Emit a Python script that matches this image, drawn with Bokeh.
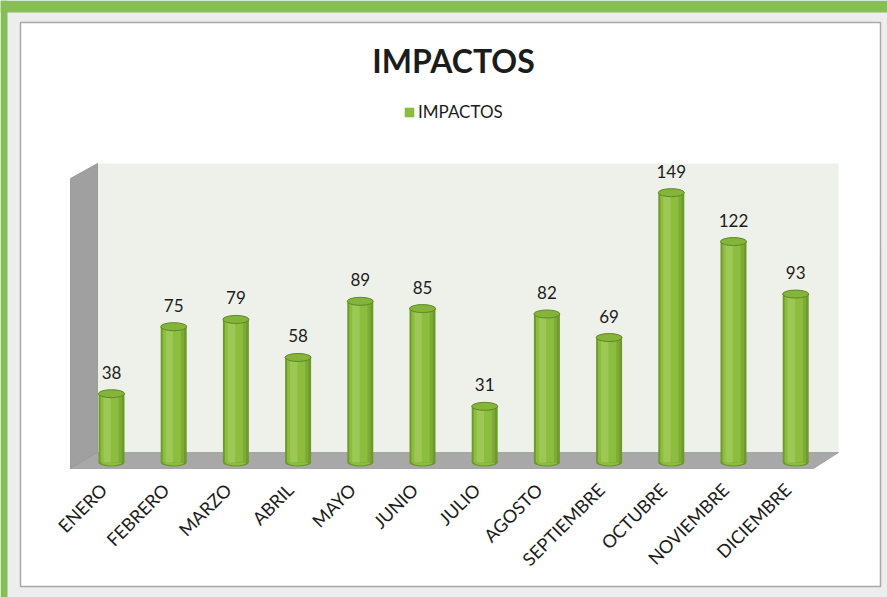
import math
from bokeh.plotting import figure
from bokeh.models import Range1d, Legend, LegendItem, ColumnDataSource
from bokeh.transform import dodge
from bokeh.embed import file_html
from bokeh.resources import INLINE
from bokeh.core.properties import value

# ---- data ----
months = ["ENERO", "FEBRERO", "MARZO", "ABRIL", "MAYO", "JUNIO", "JULIO",
          "AGOSTO", "SEPTIEMBRE", "OCTUBRE", "NOVIEMBRE", "DICIEMBRE"]
impactos = [38, 75, 79, 58, 89, 85, 31, 82, 69, 149, 122, 93]
series_name = "IMPACTOS"
chart_title = "IMPACTOS"

FONT = "Lato"
TXT = "#1c1c1c"
W_PX, H_PX = 887, 597

# layout: one category step = 62.2 px, one value unit = 1.811 px
STEP, UNIT = 62.2, 1.811
x0 = -111 / STEP
x1 = x0 + W_PX / STEP
y1 = 462 / UNIT
y0 = y1 - H_PX / UNIT


def X(px):  # canvas pixel -> x data
    return x0 + px / STEP


def Y(py):  # canvas pixel (from top) -> y data
    return y1 - py / UNIT


idx = list(range(len(months)))
src = ColumnDataSource(dict(x=idx, top=impactos, zero=[0] * len(idx),
                            label=[str(v) for v in impactos]))
msrc = ColumnDataSource(dict(x=idx, m=months, y=[Y(486)] * len(idx)))

p = figure(width=W_PX, height=H_PX, output_backend="svg", toolbar_location=None,
           x_range=Range1d(x0, x1), y_range=Range1d(y0, y1),
           x_axis_location=None, y_axis_location=None,
           min_border_left=0, min_border_right=0,
           min_border_top=0, min_border_bottom=0)
p.background_fill_color = "#EDEDED"
p.border_fill_color = "#EDEDED"
p.outline_line_color = None
p.xgrid.visible = False
p.ygrid.visible = False

# ---- page frame: green strips + white panel ----
p.quad(left=x0, right=x1, bottom=Y(12), top=y1, fill_color="#86BF55", line_color=None)
p.quad(left=x0, right=X(7), bottom=y0, top=y1, fill_color="#86BF55", line_color=None)
p.quad(left=X(20), right=X(880), bottom=Y(586), top=Y(22),
       fill_color="white", line_color="#A8A8A8", line_width=1.5)

# ---- 3D walls / floor ----
p.quad(left=X(97), right=X(838), bottom=Y(452), top=Y(163),
       fill_color="#EEF1EA", line_color=None)
p.patch([X(70), X(70), X(97), X(97)], [Y(468), Y(178), Y(163), Y(452)],
        fill_color="#A0A0A0", line_color="#8E8E8E", line_width=0.8)
p.patch([X(70), X(813), X(838), X(97)], [Y(468), Y(468), Y(452), Y(452)],
        fill_color="#A8A8A8", line_color="#9A9A9A", line_width=0.8)

# ---- cylinders ----
W = 26 / STEP
p.ellipse(x="x", y="zero", width=W, height=8, height_units="screen",
          source=src, fill_color="#6A9529", line_color=None)
p.ellipse(x="x", y="zero", width=W * 0.8, height=6, height_units="screen",
          source=src, fill_color="#8CBD3E", line_color=None)
p.vbar(x="x", top="top", bottom="zero", width=W, source=src,
       fill_color="#6E9A2C", line_color=None)
body = p.vbar(x=dodge("x", -0.01, range=p.x_range), top="top", bottom="zero",
              width=W * 0.8, source=src, fill_color="#8CBD3E", line_color=None)
p.vbar(x=dodge("x", -0.07, range=p.x_range), top="top", bottom="zero",
       width=W * 0.28, source=src, fill_color="#9DC856", line_color=None)
p.vbar(x=dodge("x", 0.14, range=p.x_range), top="top", bottom="zero",
       width=W * 0.12, source=src, fill_color="#7EAA35", line_color=None)
p.ellipse(x="x", y="top", width=W, height=8, height_units="screen",
          source=src, fill_color="#84B43A", line_color="#5E8A22", line_width=1)

# ---- value labels ----
p.text(x="x", y="top", text="label", source=src, y_offset=-15,
       text_align="center", text_baseline="bottom",
       text_font=value(FONT), text_font_size="17px", text_color=TXT)

# ---- category labels (rotated) ----
p.text(x="x", y="y", text="m", source=msrc, x_offset=-8, angle=math.pi / 4,
       text_align="right", text_baseline="middle",
       text_font=value(FONT), text_font_size="18px", text_color=TXT)

# ---- title ----
p.text(x=[X(453)], y=[Y(60)], text=[chart_title], text_align="center",
       text_baseline="middle", text_font=value(FONT),
       text_font_size="32px", text_font_style="bold", text_color=TXT)

# ---- legend ----
legend = Legend(items=[LegendItem(label=series_name, renderers=[body])],
                location=(403, H_PX - 122), orientation="horizontal",
                padding=0, margin=0, spacing=0,
                glyph_width=12, glyph_height=12, label_standoff=3,
                label_height=12, label_text_font=FONT,
                label_text_font_size="17px", label_text_color=TXT,
                label_text_baseline="middle",
                background_fill_alpha=0, border_line_color=None)
p.add_layout(legend)

open("out.html", "w").write(file_html(p, INLINE))
